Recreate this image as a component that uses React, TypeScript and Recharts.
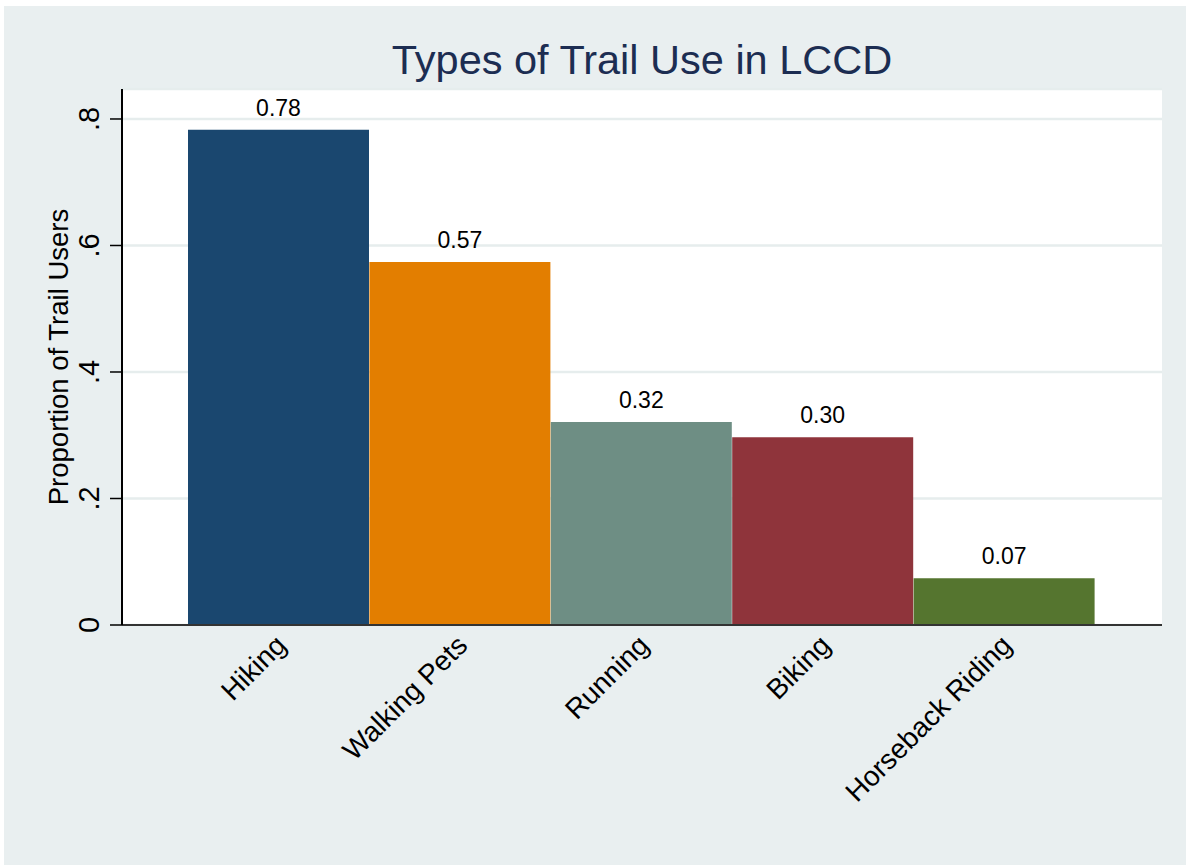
import { BarChart, Bar, XAxis, YAxis, CartesianGrid, Cell, LabelList } from "recharts";

const categories = ["Hiking", "Walking Pets", "Running", "Biking", "Horseback Riding"];
const proportions = [0.783, 0.574, 0.321, 0.297, 0.074];
const barColors = ["#1a476f", "#e37e00", "#6e8e84", "#8f343b", "#55752f"];
const yTicks = [0, 0.2, 0.4, 0.6, 0.8];

const data = categories.map((name, i) => ({ name, value: proportions[i] }));

const FONT = '"Liberation Sans", Arial, Helvetica, sans-serif';

const fmtY = (v: number) => (v === 0 ? "0" : v.toFixed(1).replace(/^0/, ""));

function YTick({ x, y, payload }: any) {
  const cx = x - 11;
  return (
    <text x={cx} y={y} transform={`rotate(-90, ${cx}, ${y})`} textAnchor="middle"
      fontSize={29} fontFamily={FONT} fill="#000">
      {fmtY(payload.value)}
    </text>
  );
}

function XTick({ x, y, payload }: any) {
  const ax = x - 5;
  const ay = y + 8;
  return (
    <text x={ax} y={ay} dy="0.71em" transform={`rotate(-45, ${ax}, ${ay})`} textAnchor="end"
      fontSize={28} fontFamily={FONT} fill="#000">
      {payload.value}
    </text>
  );
}

function YLabel({ viewBox }: any) {
  const x = viewBox.x + 16;
  const y = viewBox.y + viewBox.height / 2;
  return (
    <text x={x} y={y} transform={`rotate(-90, ${x}, ${y})`} textAnchor="middle"
      fontSize={27.5} fontFamily={FONT} fill="#000">
      Proportion of Trail Users
    </text>
  );
}

export default function App() {
  return (
    <div style={{ position: "absolute", left: 4, top: 6, width: 1182, height: 859, background: "#e9eff0" }}>
      <div style={{
        position: "absolute", left: 118, top: 33, width: 1040, textAlign: "center",
        fontFamily: FONT, fontSize: 41.5, lineHeight: "41px", color: "#1c2d52",
      }}>
        Types of Trail Use in LCCD
      </div>
      <BarChart width={1182} height={859} data={data} barCategoryGap={0}
        margin={{ top: 83, right: 24, left: 48, bottom: 180 }}>
        <CartesianGrid vertical={false} fill="#ffffff" stroke="#e6eded" strokeWidth={2.5} />
        <XAxis dataKey="name" height={60} padding={{ left: 66, right: 67 }}
          axisLine={{ stroke: "#333", strokeWidth: 2 }} tickLine={false}
          tickSize={0} tickMargin={0} interval={0} tick={<XTick />} />
        <YAxis width={70} domain={[0, 0.8474]} ticks={yTicks} allowDataOverflow
          axisLine={{ stroke: "#000", strokeWidth: 2 }}
          tickLine={{ stroke: "#000", strokeWidth: 1.5 }} tickSize={12} tickMargin={0}
          tick={<YTick />} label={{ content: <YLabel /> }} />
        <Bar dataKey="value" isAnimationActive={false}>
          {data.map((d, i) => (
            <Cell key={d.name} fill={barColors[i]} />
          ))}
          <LabelList dataKey="value" position="top" offset={14} fontSize={23}
            fontFamily={FONT} fill="#000" formatter={(v: any) => Number(v).toFixed(2)} />
        </Bar>
      </BarChart>
    </div>
  );
}
